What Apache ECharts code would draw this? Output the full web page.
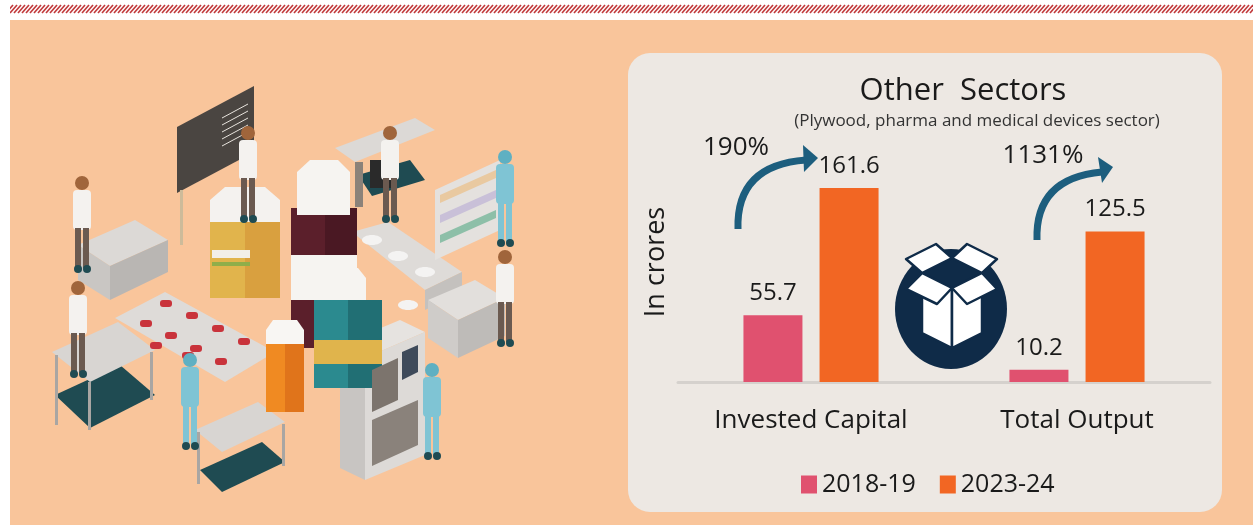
<!DOCTYPE html>
<html>
<head>
<meta charset="utf-8">
<script src="https://cdn.jsdelivr.net/npm/echarts@6/dist/echarts.min.js"></script>
<style>
  html, body { margin: 0; padding: 0; background: #ffffff; }
  #chart { width: 1253px; height: 525px; }
</style>
</head>
<body>
<div id="chart"></div>
<script>
  // data (Rs crores)
  var categories = ['Invested Capital', 'Total Output'];
  var years = ['2018-19', '2023-24'];
  var values2018 = [55.7, 10.2];
  var values2023 = [161.6, 125.5];
  var growthLabels = ['190%', '1131%'];

  var FONT = '"Open Sans", Lato, sans-serif';
  var PINK = '#e0516f';
  var ORANGE = '#f26623';
  var PEACH = '#f9c59b';
  var NAVY = '#0f2b48';
  var ARROW = '#1d5e7e';

  var dom = document.getElementById('chart');
  var myChart = echarts.init(dom);

  // --- background pieces ---
  var deco = [];
  deco.push({ type: 'rect', shape: { x: 10, y: 20, width: 1243, height: 505 }, style: { fill: PEACH }, silent: true, z: -10 });
  // hatched top border
  for (var hx = 6; hx < 1253; hx += 4) {
    deco.push({ type: 'line', shape: { x1: hx, y1: 13, x2: hx + 7, y2: 5 }, style: { stroke: '#c23a3c', lineWidth: 1.6 }, silent: true, z: -10 });
  }
  deco.push({ type: 'rect', shape: { x: 0, y: 0, width: 10, height: 20 }, style: { fill: '#fff' }, silent: true, z: -9 });
  // chart panel
  deco.push({ type: 'rect', shape: { x: 628, y: 53, width: 594, height: 459, r: 22 }, style: { fill: '#ede8e3' }, silent: true, z: -8 });

  // --- simplified lab illustration on the left ---
  function poly(pts, fill, z) {
    return { type: 'polygon', shape: { points: pts }, style: { fill: fill }, silent: true, z: z || -5 };
  }
  function box(x, y, w, h, fill, z) {
    return { type: 'rect', shape: { x: x, y: y, width: w, height: h }, style: { fill: fill }, silent: true, z: z || -5 };
  }
  function circ(cx, cy, r, fill, z) {
    return { type: 'circle', shape: { cx: cx, cy: cy, r: r }, style: { fill: fill }, silent: true, z: z || -5 };
  }
  function person(x, y, coat, z) {
    var scrubs = coat === '#7fc4d4';
    return [
      { type: 'rect', shape: { x: x - 9, y: y + 12, width: 18, height: 40, r: 4 }, style: { fill: coat }, silent: true, z: z },
      box(x - 7, y + 50, 6, 40, scrubs ? coat : '#6b5a50', z),
      box(x + 1, y + 50, 6, 40, scrubs ? coat : '#6b5a50', z),
      circ(x, y + 5, 7, scrubs ? '#5fb0c2' : '#a0653b', z),
      circ(x - 4, y + 91, 4, '#1f4b52', z),
      circ(x + 5, y + 91, 4, '#1f4b52', z)
    ];
  }

  // floor patches under tables
  deco.push(poly([[55, 395], [120, 365], [155, 395], [90, 428]], '#1f4b52'));
  deco.push(poly([[200, 470], [262, 442], [285, 462], [222, 492]], '#1f4b52'));
  deco.push(poly([[358, 175], [410, 160], [425, 180], [372, 196]], '#1f4b52'));
  // tables
  deco.push(poly([[52, 352], [118, 322], [155, 350], [90, 382]], '#d8d5d2'));
  deco.push(box(55, 355, 3, 70, '#a9a6a3')); deco.push(box(150, 352, 3, 48, '#a9a6a3'));
  deco.push(box(88, 382, 3, 48, '#a9a6a3'));
  deco.push(poly([[195, 430], [258, 402], [285, 422], [222, 452]], '#d8d5d2'));
  deco.push(box(197, 432, 3, 52, '#a9a6a3')); deco.push(box(282, 424, 3, 42, '#a9a6a3'));
  deco.push(poly([[78, 245], [135, 220], [168, 240], [110, 266]], '#dcd9d6'));
  deco.push(poly([[78, 245], [110, 266], [110, 300], [78, 280]], '#c9c6c3'));
  deco.push(poly([[110, 266], [168, 240], [168, 272], [110, 300]], '#b9b6b3'));
  // chalkboard
  deco.push(poly([[177, 127], [254, 86], [254, 152], [177, 193]], '#4a4541'));
  deco.push(box(180, 190, 3, 55, '#cdbb9a'));
  for (var cl = 0; cl < 5; cl++) {
    deco.push({ type: 'line', shape: { x1: 222, y1: 118 + cl * 7, x2: 248, y2: 104 + cl * 7 }, style: { stroke: '#e8e4de', lineWidth: 1 }, silent: true, z: -4 });
  }
  // blister strip with capsules
  deco.push(poly([[115, 318], [165, 292], [275, 352], [225, 382]], '#dedbd8'));
  var caps = [[160, 300], [186, 312], [212, 325], [238, 338], [140, 320], [165, 332], [190, 345], [215, 358], [150, 342], [182, 352]];
  caps.forEach(function (c) {
    deco.push({ type: 'rect', shape: { x: c[0], y: c[1], width: 12, height: 7, r: 3 }, style: { fill: '#c9333b' }, silent: true, z: -4 });
  });
  // conveyor on right
  deco.push(poly([[352, 232], [388, 222], [462, 272], [425, 290]], '#dedbd8'));
  deco.push(poly([[425, 290], [462, 272], [462, 292], [425, 310]], '#c4c1be'));
  [[372, 240], [398, 256], [425, 272], [408, 305]].forEach(function (c) {
    deco.push({ type: 'ellipse', shape: { cx: c[0], cy: c[1], rx: 10, ry: 5 }, style: { fill: '#f4f3f2' }, silent: true, z: -4 });
  });
  // right table
  deco.push(poly([[428, 300], [475, 280], [505, 298], [458, 320]], '#e2dfdc'));
  deco.push(poly([[428, 300], [458, 320], [458, 358], [428, 338]], '#cfccc9'));
  deco.push(poly([[458, 320], [505, 298], [505, 336], [458, 358]], '#bebbb8'));
  // shelves top right
  deco.push(poly([[435, 190], [500, 160], [500, 230], [435, 260]], '#e4e1de'));
  for (var sr = 0; sr < 3; sr++) {
    deco.push(poly([[440, 195 + sr * 20], [496, 170 + sr * 20], [496, 178 + sr * 20], [440, 203 + sr * 20]], ['#e9c9a0', '#c9c0d8', '#8dbfa8'][sr], -4));
  }
  // desk at back
  deco.push(poly([[335, 148], [415, 118], [435, 130], [355, 162]], '#dcd9d6'));
  deco.push(box(355, 162, 8, 45, '#8c8279'));
  deco.push(box(370, 160, 22, 28, '#2a2a2a', -4));
  // bottles
  deco.push(box(210, 218, 70, 80, '#e1b44c', -3));
  deco.push(box(245, 218, 35, 80, '#d9a03f', -3));
  deco.push(box(212, 250, 38, 8, '#f2efe9', -2)); deco.push(box(212, 262, 38, 4, '#8fae4a', -2));
  deco.push(poly([[210, 200], [225, 187], [265, 187], [280, 200], [280, 222], [210, 222]], '#f4f2ef', -2));
  deco.push(box(291, 208, 66, 140, '#5b1f2b', -3));
  deco.push(box(325, 208, 32, 140, '#4a1823', -3));
  deco.push(box(291, 255, 66, 45, '#f6f4f1', -2));
  deco.push(poly([[297, 172], [310, 160], [338, 160], [350, 172], [350, 215], [297, 215]], '#f6f4f1', -2));
  deco.push(box(314, 300, 68, 88, '#2b8a8f', -1));
  deco.push(box(348, 300, 34, 88, '#216f74', -1));
  deco.push(box(314, 340, 68, 24, '#e0b44c', -0.5));
  deco.push(poly([[330, 278], [338, 268], [358, 268], [366, 278], [366, 302], [330, 302]], '#f6f4f1', 0));
  deco.push(box(266, 340, 38, 72, '#f08a22', -1));
  deco.push(box(285, 340, 19, 72, '#e0741b', -1));
  deco.push(poly([[266, 330], [273, 320], [297, 320], [304, 330], [304, 344], [266, 344]], '#f8f6f3', -0.5));
  // machine
  deco.push(poly([[340, 345], [400, 320], [425, 332], [365, 358]], '#e6e3e0', 0));
  deco.push(poly([[340, 345], [365, 358], [365, 480], [340, 468]], '#c8c5c2', 0));
  deco.push(poly([[365, 358], [425, 332], [425, 455], [365, 480]], '#dddad7', 0));
  deco.push(poly([[372, 370], [398, 358], [398, 400], [372, 412]], '#7c746d', 0.5));
  deco.push(poly([[372, 420], [418, 400], [418, 445], [372, 466]], '#8a827b', 0.5));
  deco.push(poly([[402, 352], [418, 345], [418, 372], [402, 380]], '#3e4a5a', 0.5));
  // people
  [[82, 178, '#f4f2ef'], [248, 128, '#f4f2ef'], [390, 128, '#f4f2ef'], [505, 252, '#f4f2ef'],
   [78, 283, '#f4f2ef'], [505, 152, '#7fc4d4'], [190, 355, '#7fc4d4'], [432, 365, '#7fc4d4']].forEach(function (p) {
    person(p[0], p[1], p[2], 1).forEach(function (e) { deco.push(e); });
  });

  // --- growth arrows and labels inside the panel ---
  function arrow(x1, y1, cx, cy, x2, y2, head) {
    return [
      { type: 'bezierCurve', shape: { x1: x1, y1: y1, x2: x2, y2: y2, cpx1: cx, cpy1: cy }, style: { stroke: ARROW, lineWidth: 7, fill: null }, silent: true, z: 5 },
      poly(head, ARROW, 5)
    ];
  }
  arrow(738, 229, 736, 165, 806, 160, [[803, 145], [818, 158], [804, 172]]).forEach(function (e) { deco.push(e); });
  arrow(1037, 240, 1035, 178, 1102, 172, [[1098, 157], [1113, 167], [1102, 183]]).forEach(function (e) { deco.push(e); });
  deco.push({ type: 'text', x: 736, y: 148, style: { text: growthLabels[0], font: '26px ' + FONT, fill: '#1a1a1a', align: 'center', verticalAlign: 'middle' }, silent: true, z: 6 });
  deco.push({ type: 'text', x: 1043, y: 156, style: { text: growthLabels[1], font: '26px ' + FONT, fill: '#1a1a1a', align: 'center', verticalAlign: 'middle' }, silent: true, z: 6 });

  // --- box icon ---
  deco.push({ type: 'ellipse', shape: { cx: 951, cy: 309, rx: 56, ry: 60 }, style: { fill: NAVY }, silent: true, z: 6 });
  var boxPieces = [
    [[952, 288], [922, 273], [922, 333], [952, 348]],
    [[952, 288], [982, 273], [982, 333], [952, 348]],
    [[922, 273], [952, 288], [937, 304], [906, 289]],
    [[952, 288], [982, 273], [997, 289], [967, 304]],
    [[922, 273], [952, 258], [936, 244], [906, 259]],
    [[952, 258], [982, 273], [997, 259], [967, 244]]
  ];
  boxPieces.forEach(function (pts) {
    deco.push({ type: 'polygon', shape: { points: pts }, style: { fill: '#ffffff', stroke: NAVY, lineWidth: 2.5, lineJoin: 'round' }, silent: true, z: 7 });
  });

  var option = {
    backgroundColor: '#ffffff',
    textStyle: { fontFamily: FONT },
    title: [
      {
        text: 'Other  Sectors',
        left: 958, top: 71, textAlign: 'center',
        textStyle: { fontSize: 31, fontWeight: 'normal', color: '#1a1a1a', fontFamily: FONT }
      },
      {
        text: '(Plywood, pharma and medical devices sector)',
        left: 972, top: 108, textAlign: 'center',
        textStyle: { fontSize: 17, fontWeight: 'normal', color: '#333333', fontFamily: FONT }
      }
    ],
    legend: {
      data: years,
      left: 796,
      top: 467,
      icon: 'rect',
      itemWidth: 16,
      itemHeight: 18,
      itemGap: 24,
      textStyle: { fontSize: 25, color: '#1a1a1a', fontFamily: FONT }
    },
    grid: { left: 678, right: 43, top: 142, bottom: 143 },
    xAxis: {
      type: 'category',
      data: categories,
      axisLine: { lineStyle: { color: '#d5d1cd', width: 3 } },
      axisTick: { show: false },
      axisLabel: { fontSize: 26, color: '#1a1a1a', margin: 26, fontFamily: FONT }
    },
    yAxis: {
      type: 'value',
      min: 0,
      max: 200,
      name: 'In crores',
      nameLocation: 'middle',
      nameRotate: 90,
      nameGap: 8,
      nameTextStyle: { fontSize: 27, color: '#1a1a1a', fontFamily: FONT },
      axisLine: { show: false },
      axisTick: { show: false },
      axisLabel: { show: false },
      splitLine: { show: false }
    },
    series: [
      {
        name: years[0],
        type: 'bar',
        data: values2018,
        barWidth: 59,
        barGap: '29%',
        itemStyle: { color: PINK },
        label: { show: true, position: 'top', distance: 10, fontSize: 24, color: '#1a1a1a', fontFamily: FONT },
        z: 3
      },
      {
        name: years[1],
        type: 'bar',
        data: values2023,
        barWidth: 59,
        itemStyle: { color: ORANGE },
        label: { show: true, position: 'top', distance: 10, fontSize: 24, color: '#1a1a1a', fontFamily: FONT },
        z: 3
      }
    ],
    graphic: { elements: deco }
  };

  if (option && typeof option === 'object') {
    myChart.setOption(option, true);
  }
</script>
</body>
</html>
